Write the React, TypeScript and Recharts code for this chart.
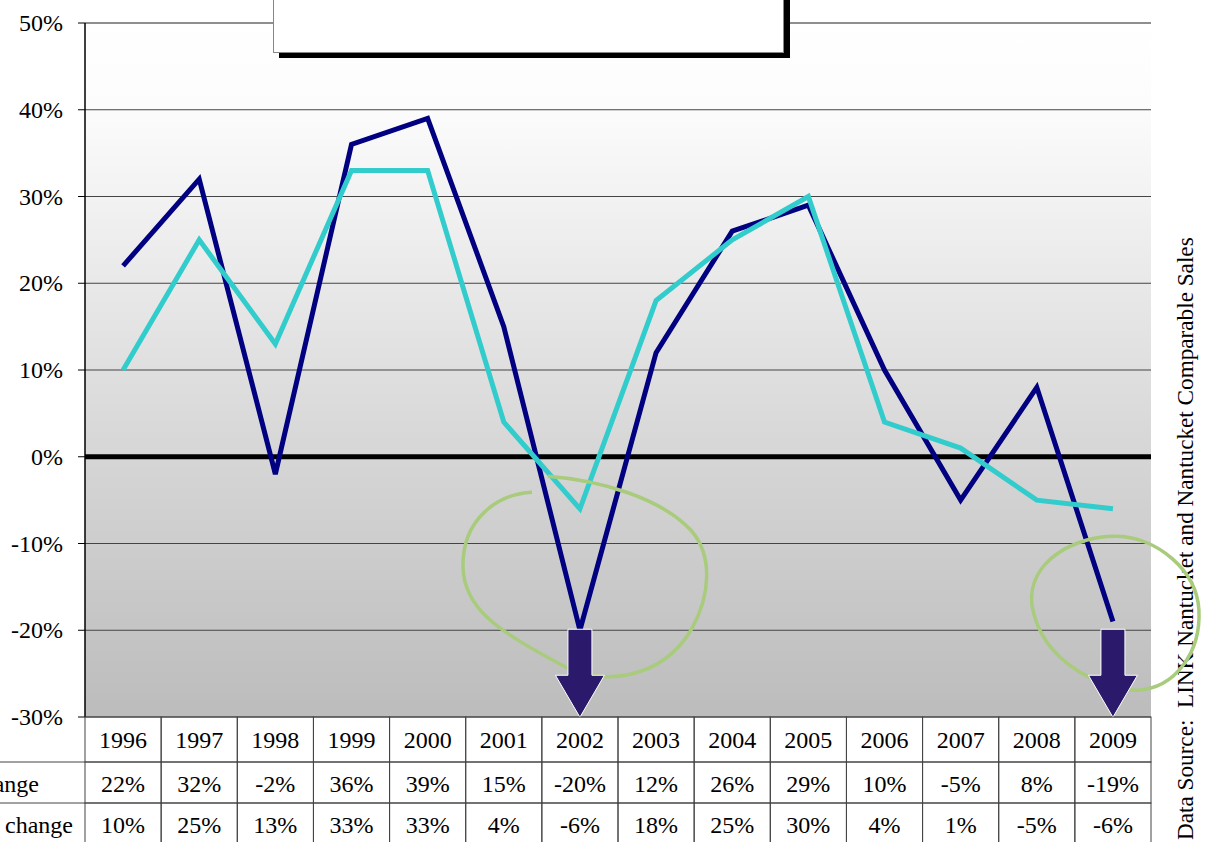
import {
  LineChart,
  Line,
  XAxis,
  YAxis,
  CartesianGrid,
  ReferenceLine,
  ReferenceDot,
} from "recharts";

const years = [
  "1996", "1997", "1998", "1999", "2000", "2001", "2002",
  "2003", "2004", "2005", "2006", "2007", "2008", "2009",
];
const volumeChange = [22, 32, -2, 36, 39, 15, -20, 12, 26, 29, 10, -5, 8, -19];
const priceChange = [10, 25, 13, 33, 33, 4, -6, 18, 25, 30, 4, 1, -5, -6];
const rowLabels = ["Dollar Volume % change", "Average Sales Price % change"];
const yTicks = [-30, -20, -10, 0, 10, 20, 30, 40, 50];
const arrowYears = ["2002", "2009"];
const arrowFrom = -20;

const data = years.map((year, i) => ({
  year,
  volume: volumeChange[i],
  price: priceChange[i],
}));

const FONT = '"Liberation Serif", "Times New Roman", serif';
const PLOT_LEFT = 85;
const PLOT_RIGHT = 1151;
const CELL = (PLOT_RIGHT - PLOT_LEFT) / years.length;
const GREEN = "#A8CB7C";

function TableTick(props: any) {
  const { x, y, index } = props;
  const left = x - CELL / 2;
  const line = "#444";
  const rows = [
    { top: 0, h: 45, text: years[index], base: 31 },
    { top: 45, h: 41, text: `${volumeChange[index]}%`, base: 75 },
    { top: 86, h: 50, text: `${priceChange[index]}%`, base: 116 },
  ];
  return (
    <g>
      {rows.map((r, k) => (
        <g key={k}>
          <rect x={left} y={y + r.top} width={CELL} height={r.h} fill="none" stroke={line} strokeWidth={1} />
          <text x={x} y={y + r.base} textAnchor="middle" fontFamily={FONT} fontSize={24} fill="#000">
            {r.text}
          </text>
        </g>
      ))}
      {index === 0 && (
        <g>
          <line x1={0} x2={left} y1={y + 45} y2={y + 45} stroke={line} />
          <line x1={0} x2={left} y1={y + 86} y2={y + 86} stroke={line} />
          <text x={39} y={y + 75} textAnchor="end" fontFamily={FONT} fontSize={24} fill="#000">
            {rowLabels[0]}
          </text>
          <text x={73} y={y + 116} textAnchor="end" fontFamily={FONT} fontSize={24} fill="#000">
            {rowLabels[1]}
          </text>
        </g>
      )}
    </g>
  );
}

function PercentTick(props: any) {
  const { x, y, payload } = props;
  return (
    <text x={x} y={y + 8} textAnchor="end" fontFamily={FONT} fontSize={24} fill="#000">
      {`${payload.value}%`}
    </text>
  );
}

function DownArrow(props: any) {
  const { cx, cy } = props;
  const d = `M${cx - 12},${cy - 1} L${cx + 12},${cy - 1} L${cx + 12},${cy + 45} L${cx + 24.5},${cy + 45} L${cx},${cy + 87} L${cx - 24.5},${cy + 45} L${cx - 12},${cy + 45} Z`;
  return <path d={d} fill="#2B1A6C" stroke="#fff" strokeWidth={1} />;
}

function LoopLeft(props: any) {
  const { cx, cy } = props;
  const p = (dx: number, dy: number) => `${cx + dx},${cy + dy}`;
  const d = `M${p(-48, -138)} C${p(-84, -136)} ${p(-117, -110)} ${p(-117, -65)} C${p(-117, -20)} ${p(-79, 2)} ${p(-14, 37)} C${p(21, 55)} ${p(81, 50)} ${p(111, 0)} C${p(131, -35)} ${p(133, -75)} ${p(111, -100)} C${p(81, -132)} ${p(21, -150)} ${p(-32, -154)}`;
  return <path d={d} fill="none" stroke={GREEN} strokeWidth={3.5} />;
}

function LoopRight(props: any) {
  const { cx, cy } = props;
  const p = (dx: number, dy: number) => `${cx + dx},${cy + dy}`;
  const d = `M${p(24, 60)} C${p(-6, 60)} ${p(-71, 35)} ${p(-81, -25)} C${p(-86, -70)} ${p(-36, -95)} ${p(4, -94)} C${p(44, -93)} ${p(84, -60)} ${p(86, -20)} C${p(88, 20)} ${p(64, 58)} ${p(24, 60)}`;
  return <path d={d} fill="none" stroke={GREEN} strokeWidth={3.5} />;
}

export default function App() {
  return (
    <div
      style={{
        position: "absolute",
        left: 0,
        top: 0,
        width: 1209,
        height: 842,
        overflow: "hidden",
        background: "#fff",
      }}
    >
      <svg width={1209} height={842} style={{ position: "absolute", left: 0, top: 0 }}>
        <text
          transform="translate(1193, 840) rotate(-90)"
          fontFamily={FONT}
          fontSize={23.2}
          fill="#000"
          style={{ whiteSpace: "pre" }}
        >
          {"Data Source:  LINK Nantucket and Nantucket Comparable Sales"}
        </text>
      </svg>

      <div style={{ position: "absolute", left: 0, top: 0 }}>
        <LineChart
          width={1209}
          height={842}
          data={data}
          margin={{ top: 23, right: 58, bottom: 0, left: 0 }}
        >
          <defs>
            <linearGradient id="plotBg" x1="0" y1="0" x2="0" y2="1">
              <stop offset="0%" stopColor="#ffffff" />
              <stop offset="12%" stopColor="#fcfcfc" />
              <stop offset="62%" stopColor="#d6d6d6" />
              <stop offset="100%" stopColor="#bcbcbc" />
            </linearGradient>
          </defs>
          <CartesianGrid vertical={false} stroke="#444" fill="url(#plotBg)" fillOpacity={1} />
          <XAxis
            dataKey="year"
            interval={0}
            height={125}
            padding={{ left: CELL / 2, right: CELL / 2 }}
            tickLine={false}
            axisLine={false}
            tickSize={0}
            tickMargin={0}
            tick={(p: any) => <TableTick {...p} />}
          />
          <YAxis
            domain={[-30, 50]}
            ticks={yTicks}
            width={85}
            tickSize={7}
            tickMargin={15}
            axisLine={{ stroke: "#000", strokeWidth: 1.5 }}
            tickLine={{ stroke: "#000" }}
            tick={(p: any) => <PercentTick {...p} />}
            allowDataOverflow
          />
          <YAxis
            yAxisId="frame"
            orientation="right"
            domain={[-30, 50]}
            width={0}
            tick={false}
            tickLine={false}
            axisLine={{ stroke: "#888", strokeWidth: 2 }}
          />
          <ReferenceLine y={50} stroke="#888" strokeWidth={1.5} />
          <ReferenceLine y={0} stroke="#000" strokeWidth={5} />
          <Line
            dataKey="volume"
            stroke="#000080"
            strokeWidth={5}
            dot={false}
            isAnimationActive={false}
          />
          <Line
            dataKey="price"
            stroke="#33CCCC"
            strokeWidth={5}
            dot={false}
            isAnimationActive={false}
          />
          <ReferenceDot x={arrowYears[0]} y={arrowFrom} r={0} shape={(p: any) => <LoopLeft {...p} />} />
          <ReferenceDot x={arrowYears[1]} y={arrowFrom} r={0} shape={(p: any) => <LoopRight {...p} />} />
          {arrowYears.map((yr) => (
            <ReferenceDot
              key={yr}
              x={yr}
              y={arrowFrom}
              r={0}
              shape={(p: any) => <DownArrow {...p} />}
            />
          ))}
        </LineChart>
      </div>

      <div
        style={{
          position: "absolute",
          left: 273,
          top: -10,
          width: 509,
          height: 61,
          background: "#fff",
          border: "1px solid #888",
          boxShadow: "6px 5px 0 #000",
        }}
      />
    </div>
  );
}
